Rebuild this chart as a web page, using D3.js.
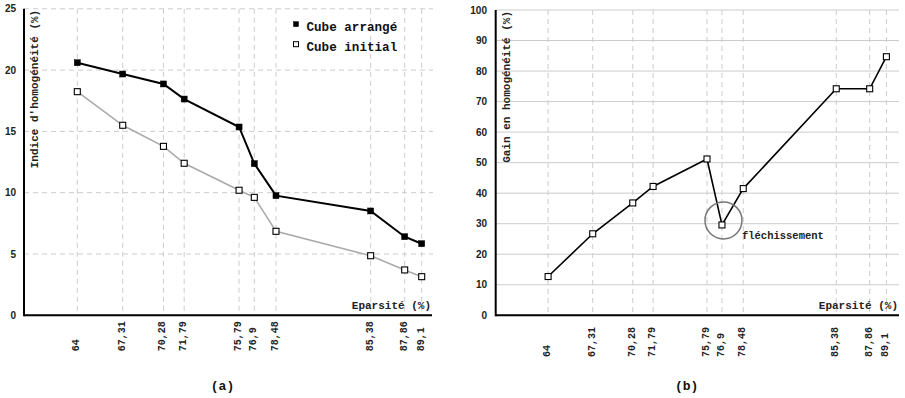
<!DOCTYPE html>
<html><head><meta charset="utf-8">
<script src="https://cdn.jsdelivr.net/npm/d3@7"></script>
<style>
body{margin:0;background:#fff;}
svg{display:block;}
</style></head>
<body>
<svg id="c" width="905" height="398"></svg>
<script>
const eparsite = [64, 67.31, 70.28, 71.79, 75.79, 76.9, 78.48, 85.38, 87.86, 89.1];
const cubeArrange = [20.6, 19.68, 18.87, 17.64, 15.36, 12.37, 9.76, 8.51, 6.41, 5.84];
const cubeInitial = [18.24, 15.5, 13.78, 12.4, 10.2, 9.62, 6.85, 4.86, 3.7, 3.15];
const gain = [12.7, 26.7, 36.8, 42.2, 51.2, 29.6, 41.5, 74.2, 74.2, 84.7];
const yTicksA = [0, 5, 10, 15, 20, 25];
const yTicksB = [0, 10, 20, 30, 40, 50, 60, 70, 80, 90, 100];
const legendLabels = ["Cube arrangé", "Cube initial"];
const yTitleA = "Indice d'homogénéité (%)";
const yTitleB = "Gain en homogénéité (%)";
const xTitle = "Eparsité (%)";
const annotation = "fléchissement";
const captions = ["(a)", "(b)"];

const mono = "'Liberation Mono','Courier New',monospace";
const sans = "'Liberation Sans',Arial,sans-serif";
const svg = d3.select("#c");
const fmt = v => String(v).replace(".", ",");

function panel(o) {
  const g = svg.append("g");
  const x = d3.scaleLinear().domain(o.xDomain).range(o.xRange);
  const y = d3.scaleLinear().domain(o.yDomain).range([315.3, o.yTop]);
  // horizontal grid
  g.append("g").selectAll("line").data(o.yTicks.filter(d => d > 0)).join("line")
    .attr("x1", o.axisX).attr("x2", o.gridRight)
    .attr("y1", d => y(d)).attr("y2", d => y(d))
    .attr("stroke", "#cccccc").attr("stroke-width", 1)
    .attr("stroke-dasharray", o.hDash ? "5,4" : null);
  // vertical grid
  g.append("g").selectAll("line").data(eparsite).join("line")
    .attr("x1", d => x(d)).attr("x2", d => x(d))
    .attr("y1", y(o.yDomain[1])).attr("y2", y(0))
    .attr("stroke", "#cccccc").attr("stroke-width", 1)
    .attr("stroke-dasharray", "5,4");
  // y axis tick labels
  const ya = d3.axisLeft(y).tickValues(o.yTicks).tickSize(0).tickPadding(0);
  const yg = g.append("g").attr("transform", `translate(${o.yLabelX},0)`).call(ya);
  yg.select(".domain").remove();
  yg.selectAll("text").attr("font-family", sans).attr("font-weight", "bold")
    .attr("font-size", 10).attr("fill", "#222").attr("dy", "0.3em");
  // x axis tick labels
  const xa = d3.axisBottom(x).tickValues(eparsite).tickFormat(fmt).tickSize(0);
  const xg = g.append("g").attr("transform", `translate(0,${y(0)})`).call(xa);
  xg.select(".domain").remove();
  xg.selectAll("text").attr("font-family", mono).attr("font-weight", "bold")
    .attr("font-size", 10).attr("fill", "#222")
    .attr("transform", "rotate(-90)").attr("text-anchor", "start")
    .attr("x", -o.xLabelDrop).attr("y", 1.5).attr("dy", 0);
  // axes lines
  g.append("line").attr("x1", o.axisX).attr("x2", o.axisX)
    .attr("y1", o.yTop).attr("y2", y(0) + 1).attr("stroke", "#000").attr("stroke-width", 2);
  g.append("line").attr("x1", o.axisX).attr("x2", o.axisRight)
    .attr("y1", y(0)).attr("y2", y(0)).attr("stroke", "#000").attr("stroke-width", 2);
  // titles
  g.append("text").attr("transform", `translate(${o.yTitleX},${o.yTop + 1}) rotate(-90)`)
    .attr("text-anchor", "end").attr("font-family", mono).attr("font-weight", "bold")
    .attr("font-size", 11).attr("fill", "#222").text(o.yTitle);
  g.append("text").attr("x", o.axisRight - 1).attr("y", 308.5).attr("text-anchor", "end")
    .attr("font-family", mono).attr("font-weight", "bold").attr("font-size", 11)
    .attr("fill", "#222").text(xTitle);
  g.append("text").attr("x", o.captionX).attr("y", 390).attr("text-anchor", "middle")
    .attr("font-family", mono).attr("font-weight", "bold").attr("font-size", 13)
    .attr("fill", "#111").text(o.caption);
  return {g, x, y};
}

function series(p, vals, color, width, filled) {
  const data = eparsite.map((d, i) => [d, vals[i]]);
  p.g.append("path").datum(data)
    .attr("d", d3.line().x(d => p.x(d[0])).y(d => p.y(d[1])))
    .attr("fill", "none").attr("stroke", color).attr("stroke-width", width);
  const s = 6;
  p.g.append("g").selectAll("rect").data(data).join("rect")
    .attr("x", d => p.x(d[0]) - s / 2).attr("y", d => p.y(d[1]) - s / 2)
    .attr("width", s).attr("height", s)
    .attr("fill", filled ? "#000" : "#fff")
    .attr("stroke", "#000").attr("stroke-width", filled ? 0.5 : 1.1);
}

// Panel (a)
const pa = panel({
  xDomain: [64, 89.1], xRange: [77.3, 421.7],
  yDomain: [0, 25], yTop: 8.8, yTicks: yTicksA,
  axisX: 24, axisRight: 432, gridRight: 433, yLabelX: 16, hDash: true,
  xLabelDrop: 36, yTitleX: 37.5, yTitle: yTitleA, captionX: 222.5, caption: captions[0]
});
series(pa, cubeInitial, "#aaaaaa", 1.6, false);
series(pa, cubeArrange, "#000", 2, true);

// legend
const lg = pa.g.append("g");
legendLabels.forEach((t, i) => {
  lg.append("rect").attr("x", 293.5).attr("y", 21.7 + i * 20).attr("width", 5).attr("height", 5)
    .attr("fill", i === 0 ? "#000" : "#fff").attr("stroke", "#000").attr("stroke-width", i === 0 ? 0.5 : 1);
  lg.append("text").attr("x", 306.5).attr("y", 30.5 + i * 20)
    .attr("font-family", mono).attr("font-weight", "bold").attr("font-size", 12.6)
    .attr("fill", "#111").text(t);
});

// Panel (b)
const pb = panel({
  xDomain: [64, 89.1], xRange: [548.1, 886.4],
  yDomain: [0, 100], yTop: 10, yTicks: yTicksB,
  axisX: 495.7, axisRight: 899, gridRight: 899, yLabelX: 487, hDash: false,
  xLabelDrop: 41.7, yTitleX: 510, yTitle: yTitleB, captionX: 686.7, caption: captions[1]
});
series(pb, gain, "#000", 1.6, false);

// annotation
const dipI = 5;
pb.g.append("circle").attr("cx", pb.x(eparsite[dipI]) + 1.5).attr("cy", pb.y(gain[dipI]) - 4.5)
  .attr("r", 18.5).attr("fill", "none").attr("stroke", "#777").attr("stroke-width", 1.5);
pb.g.append("text").attr("x", pb.x(eparsite[dipI]) + 20).attr("y", 239)
  .attr("font-family", mono).attr("font-weight", "bold").attr("font-size", 10.5)
  .attr("fill", "#222").text(annotation);
</script>
</body></html>
